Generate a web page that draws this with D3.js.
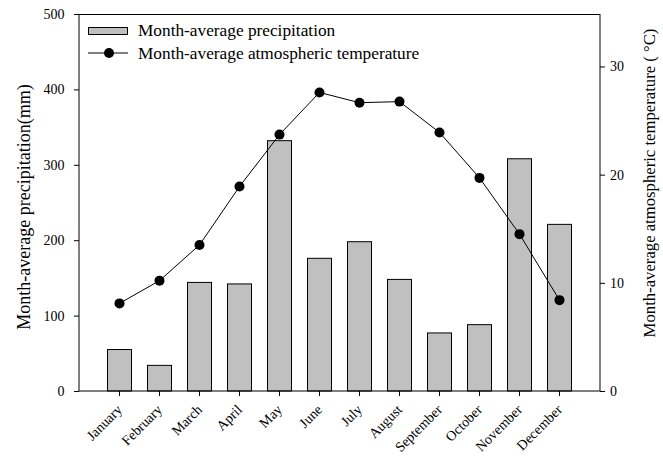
<!DOCTYPE html>
<html><head><meta charset="utf-8">
<script src="https://cdn.jsdelivr.net/npm/d3@7"></script>
<style>body{margin:0;background:#fff}svg{display:block}text{font-family:"Liberation Serif","Times New Roman",serif;fill:#000}</style>
</head><body><svg id="c" width="663" height="460"></svg>
<script>
const months = ["January","February","March","April","May","June","July","August","September","October","November","December"];
const precipitation = [55,34,144,142,332,176,198,148,77,88,308,221];
const temperature = [8.1,10.2,13.5,18.9,23.7,27.6,26.65,26.75,23.9,19.7,14.5,8.4];
const precipTicks = [0,100,200,300,400,500];
const tempTicks = [0,10,20,30];

const svg = d3.select("#c");
const L = 79, R = 600, T = 14, B = 391;
const x = d3.scaleBand().domain(months).range([L, R]).paddingInner(0.4).paddingOuter(0.7125);
const y = d3.scaleLinear().domain([0, 500]).range([B, T]);
const y2 = d3.scaleLinear().domain([0, 34.85]).range([B, T]);

// frame top
svg.append("line").attr("x1", L).attr("x2", R).attr("y1", T + 0.5).attr("y2", T + 0.5).attr("stroke", "#000");

// bars
svg.append("g").selectAll("rect").data(precipitation).join("rect")
  .attr("x", (d, i) => x(months[i]))
  .attr("y", d => y(d))
  .attr("width", x.bandwidth())
  .attr("height", d => B - y(d))
  .attr("fill", "#c0c0c0").attr("stroke", "#000").attr("stroke-width", 1);

// axes
const ax = svg.append("g").attr("transform", `translate(${L},0)`)
  .call(d3.axisLeft(y).tickValues(precipTicks).tickSize(5).tickPadding(9.5));
const ax2 = svg.append("g").attr("transform", `translate(${R},0)`)
  .call(d3.axisRight(y2).tickValues(tempTicks).tickSize(5).tickPadding(5));
const axb = svg.append("g").attr("transform", `translate(0,${B})`)
  .call(d3.axisBottom(x).tickSize(5).tickSizeOuter(0));
[ax, ax2].forEach(g => { g.selectAll("text").style("font-size", "14px"); });
ax.select(".domain").attr("d", `M-0,${B}V${T}`);
ax2.select(".domain").attr("d", `M0,${B}V${T}`);
axb.select(".domain").attr("d", `M${L},0H${R}`);
axb.selectAll("text")
  .style("font-size", "14px")
  .attr("text-anchor", "end")
  .attr("dy", null)
  .attr("transform", "translate(3.5,19.5) rotate(-45)")
  .attr("y", 0).attr("x", 0);

// line + dots
const cx = i => x(months[i]) + x.bandwidth() / 2;
svg.append("path").datum(temperature)
  .attr("d", d3.line().x((d, i) => cx(i)).y(d => y2(d)))
  .attr("fill", "none").attr("stroke", "#000").attr("stroke-width", 1);
svg.append("g").selectAll("circle").data(temperature).join("circle")
  .attr("cx", (d, i) => cx(i)).attr("cy", d => y2(d)).attr("r", 5).attr("fill", "#000");

// titles
svg.append("text").attr("transform", "translate(29.5,207) rotate(-90)")
  .attr("text-anchor", "middle").style("font-size", "18px").text("Month-average precipitation(mm)");
svg.append("text").attr("transform", "translate(655,183) rotate(-90)")
  .attr("text-anchor", "middle").style("font-size", "16.7px").text("Month-average atmospheric temperature ( °C)");

// legend
const lg = svg.append("g");
lg.append("rect").attr("x", 88.5).attr("y", 27.5).attr("width", 39).attr("height", 7)
  .attr("fill", "#c0c0c0").attr("stroke", "#000");
lg.append("line").attr("x1", 88).attr("x2", 128).attr("y1", 53).attr("y2", 53).attr("stroke", "#000");
lg.append("circle").attr("cx", 109).attr("cy", 53).attr("r", 5).attr("fill", "#000");
lg.append("text").attr("x", 138).attr("y", 36).style("font-size", "17.3px").text("Month-average precipitation");
lg.append("text").attr("x", 138).attr("y", 58.5).style("font-size", "17.3px").text("Month-average atmospheric temperature");
</script></body></html>
